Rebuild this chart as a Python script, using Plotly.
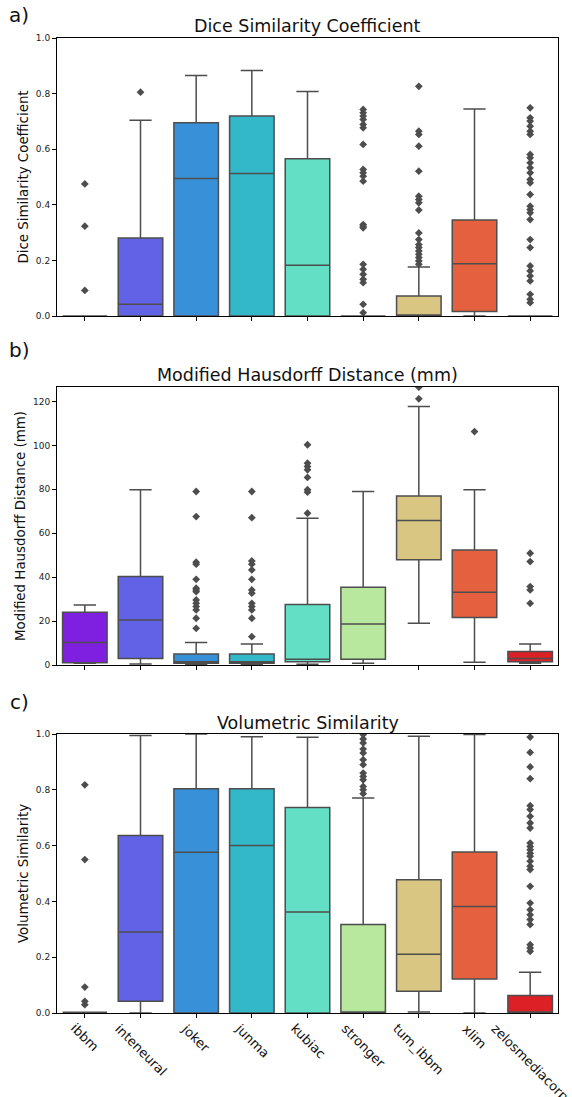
import plotly.graph_objects as go

CATEGORIES = ["ibbm", "inteneural", "joker", "junma", "kubiac", "stronger",
              "tum_ibbm", "xlim", "zelosmediacorp"]
COLORS = ["#7f1fdf", "#6262e6", "#3891d8", "#33b8ca", "#63dfc5", "#b8e79e",
          "#d9c683", "#e5603f", "#dd2026"]

# a) Dice Similarity Coefficient
DSC_LOWER = [0, 0, 0, 0, 0, 0, 0, 0, 0]
DSC_Q1 = [0, 0, 0, 0, 0, 0, 0, 0.016, 0]
DSC_MEDIAN = [0, 0.042, 0.495, 0.513, 0.183, 0, 0.0, 0.188, 0]
DSC_Q3 = [0, 0.281, 0.695, 0.719, 0.566, 0, 0.072, 0.345, 0]
DSC_UPPER = [0, 0.704, 0.865, 0.883, 0.808, 0, 0.176, 0.745, 0]
DSC_OUTLIERS = [
    [0.475, 0.323, 0.092],
    [0.805],
    [],
    [],
    [],
    [0.743, 0.731, 0.719, 0.707, 0.689, 0.677, 0.617, 0.527, 0.515, 0.503,
     0.485, 0.329, 0.323, 0.317, 0.186, 0.168, 0.150, 0.132, 0.120, 0.042, 0.012],
    [0.826, 0.665, 0.653, 0.611, 0.521, 0.431, 0.419, 0.407, 0.381, 0.299,
     0.275, 0.257, 0.246, 0.234, 0.222, 0.210, 0.198, 0.186],
    [],
    [0.749, 0.713, 0.701, 0.683, 0.665, 0.653, 0.581, 0.569, 0.551, 0.533,
     0.515, 0.491, 0.479, 0.437, 0.395, 0.383, 0.371, 0.347, 0.275, 0.246,
     0.180, 0.162, 0.144, 0.126, 0.078, 0.060, 0.048],
]

# b) Modified Hausdorff Distance (mm)
MHD_LOWER = [0.8, 0.5, 0.3, 0.3, 0.3, 0.8, 19.0, 1.2, 0.8]
MHD_Q1 = [1.0, 3.0, 0.8, 0.8, 1.5, 2.6, 47.9, 21.6, 1.5]
MHD_MEDIAN = [10.3, 20.5, 1.5, 1.5, 2.6, 18.7, 65.8, 33.1, 3.0]
MHD_Q3 = [24.0, 40.3, 5.0, 5.0, 27.6, 35.4, 77.0, 52.4, 6.1]
MHD_UPPER = [27.3, 79.8, 10.3, 9.6, 66.8, 79.0, 117.7, 79.8, 9.6]
MHD_OUTLIERS = [
    [],
    [],
    [79.0, 67.6, 46.8, 45.9, 39.0, 35.0, 34.2, 33.4, 29.6, 28.1, 26.6, 25.1,
     21.3, 16.7],
    [79.0, 67.1, 47.4, 45.9, 43.3, 39.0, 34.2, 32.7, 28.1, 26.6, 25.1, 21.3,
     12.9],
    [100.3, 91.9, 90.4, 88.9, 85.4, 79.8, 78.7, 69.1],
    [],
    [121.2, 126.5],
    [106.3],
    [50.9, 47.1, 35.7, 34.2, 28.1],
]

# c) Volumetric Similarity
VS_LOWER = [0, 0, 0, 0, 0, 0, 0.004, 0, 0]
VS_Q1 = [0.003, 0.042, 0, 0, 0, 0, 0.078, 0.122, 0]
VS_MEDIAN = [0.003, 0.29, 0.576, 0.6, 0.362, 0, 0.211, 0.382, 0]
VS_Q3 = [0.003, 0.636, 0.804, 0.804, 0.737, 0.317, 0.478, 0.577, 0.063]
VS_UPPER = [0.003, 0.995, 1.0, 0.99, 0.988, 0.771, 0.992, 0.998, 0.146]
VS_OUTLIERS = [
    [0.818, 0.550, 0.093, 0.042, 0.030],
    [],
    [],
    [],
    [],
    [0.998, 0.982, 0.968, 0.946, 0.932, 0.908, 0.890, 0.860, 0.848, 0.836,
     0.812, 0.800, 0.786],
    [],
    [],
    [0.989, 0.934, 0.882, 0.840, 0.743, 0.729, 0.705, 0.681, 0.663, 0.609,
     0.597, 0.585, 0.573, 0.562, 0.544, 0.526, 0.514, 0.454, 0.394, 0.370,
     0.352, 0.335, 0.317, 0.245, 0.233, 0.221],
]

PANELS = [
    ("a)", "Dice Similarity Coefficient", "Dice Similarity Coefficient",
     DSC_LOWER, DSC_Q1, DSC_MEDIAN, DSC_Q3, DSC_UPPER, DSC_OUTLIERS),
    ("b)", "Modified Hausdorff Distance (mm)", "Modified Hausdorff Distance (mm)",
     MHD_LOWER, MHD_Q1, MHD_MEDIAN, MHD_Q3, MHD_UPPER, MHD_OUTLIERS),
    ("c)", "Volumetric Similarity", "Volumetric Similarity",
     VS_LOWER, VS_Q1, VS_MEDIAN, VS_Q3, VS_UPPER, VS_OUTLIERS),
]

W, H = 572, 1097
ML, MR = 57, 14
PLOT_W = W - ML - MR
LINE = "#4d4d4d"
FONT = "DejaVu Sans"

# pixel layout: (top, bottom) of each plot area, title center y, letter center y
PIX = [(38, 316, 26, 15), (387, 665, 375, 350), (734, 1013, 723, 702)]
YRANGES = [[0, 1.0], [0, 126.6], [0, 1.0]]
DTICKS = [0.2, 20, 0.2]
TFORMATS = [".1f", "d", ".1f"]


def py(p):
    return 1 - p / H


def px(p):
    return (p - ML) / PLOT_W


fig = go.Figure()
annotations = []
for k, (letter, title, ytitle, lo, q1, med, q3, hi, outl) in enumerate(PANELS):
    sfx = "" if k == 0 else str(k + 1)
    xa, ya = "x" + sfx, "y" + sfx
    for i, cat in enumerate(CATEGORIES):
        fig.add_trace(go.Box(
            x=[cat], q1=[q1[i]], median=[med[i]], q3=[q3[i]],
            lowerfence=[lo[i]], upperfence=[hi[i]],
            fillcolor=COLORS[i], line=dict(color=LINE, width=1.5),
            whiskerwidth=0.5, width=0.8, boxpoints=False,
            showlegend=False, xaxis=xa, yaxis=ya, name=cat,
        ))
        if outl[i]:
            fig.add_trace(go.Scatter(
                x=[cat] * len(outl[i]), y=outl[i], mode="markers",
                marker=dict(symbol="diamond", size=6, color=LINE),
                showlegend=False, xaxis=xa, yaxis=ya, name=cat,
            ))
    top, bot, tcy, lcy = PIX[k]
    xkey = "xaxis" + sfx
    ykey = "yaxis" + sfx
    fig.update_layout(**{
        xkey: dict(
            type="category", categoryorder="array", categoryarray=CATEGORIES,
            range=[-0.5, 8.5], domain=[0, 1], anchor=ya, automargin=False,
            showline=True, mirror=True, linecolor="black", linewidth=1,
            ticks="outside", ticklen=4, tickcolor="black", tickwidth=1,
            showticklabels=False, showgrid=False, zeroline=False,
        ),
        ykey: dict(
            range=YRANGES[k], domain=[py(bot), py(top)], anchor=xa,
            automargin=False,
            dtick=DTICKS[k], tick0=0, tickformat=TFORMATS[k],
            showline=True, mirror=True, linecolor="black", linewidth=1,
            ticks="outside", ticklen=4, tickcolor="black", tickwidth=1,
            tickfont=dict(family=FONT, size=9, color="#222"),
            showgrid=False, zeroline=False,
            title=dict(text=ytitle, font=dict(family=FONT, size=13.4, color="#111"),
                       standoff=4),
        ),
    })
    annotations.append(dict(
        text=title, xref="paper", yref="paper", x=0.5, y=py(tcy),
        xanchor="center", yanchor="middle", showarrow=False,
        font=dict(family=FONT, size=17.5, color="#111"),
    ))
    annotations.append(dict(
        text=letter, xref="paper", yref="paper", x=px(19), y=py(lcy),
        xanchor="center", yanchor="middle", showarrow=False,
        font=dict(family=FONT, size=20, color="#111"),
    ))

for cat in CATEGORIES:
    annotations.append(dict(
        text=cat, xref="x3", yref="paper", x=cat, y=py(1018),
        xanchor="center", yanchor="top", textangle=45, showarrow=False,
        font=dict(family=FONT, size=13, color="#111"),
    ))

fig.update_layout(
    width=W, height=H, margin=dict(l=ML, r=MR, t=0, b=0, autoexpand=False),
    paper_bgcolor="white", plot_bgcolor="white",
    boxmode="overlay", annotations=annotations,
    font=dict(family=FONT),
)

fig.write_html(
    "out.html",
    config={"displayModeBar": False},
    post_script="document.body.style.margin='0';document.body.style.overflow='hidden';",
)
